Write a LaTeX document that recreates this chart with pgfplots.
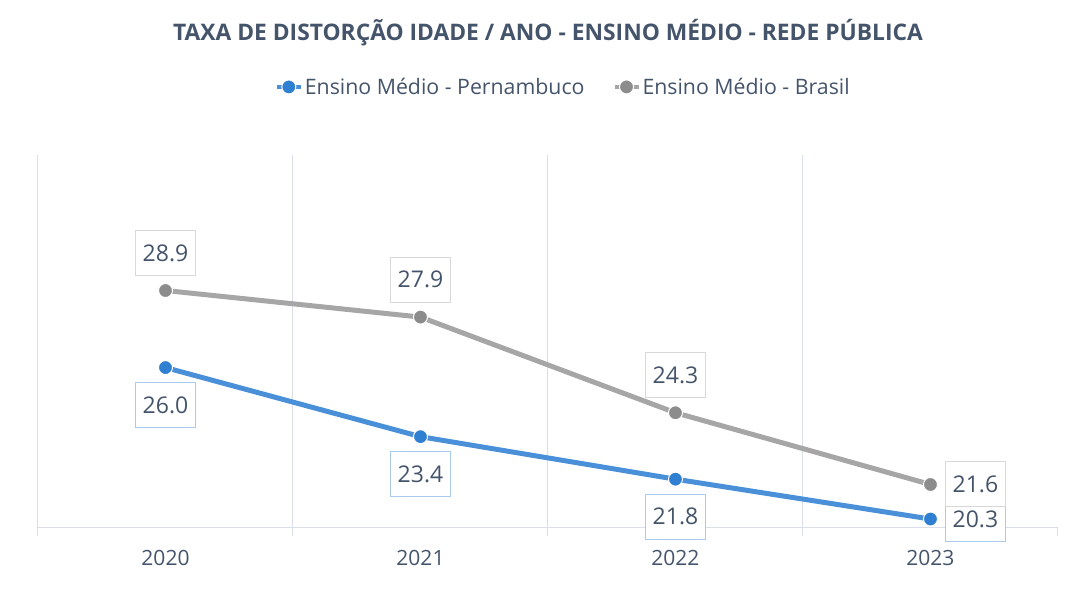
\documentclass[border=0pt]{standalone}
\usepackage{pgfplots}
\pgfplotsset{compat=1.18}
\usepackage{fontspec}
\setmainfont{Open Sans}
\definecolor{txt}{HTML}{44546A}
\definecolor{gridc}{HTML}{D9DEE8}
\definecolor{blueL}{HTML}{4A90D9}
\definecolor{blueM}{HTML}{2F80D0}
\definecolor{grayL}{HTML}{A6A6A6}
\definecolor{grayM}{HTML}{8C8C8C}
\definecolor{blueB}{HTML}{A9CBEE}
\definecolor{grayB}{HTML}{D9D9D9}
\begin{document}
\begin{tikzpicture}
\begin{axis}[
  at={(0pt,0pt)}, anchor=south west,
  scale only axis, width=1020pt, height=372pt,
  xmin=-0.5, xmax=3.5, ymin=20, ymax=34,
  /pgf/number format/assume math mode=true,
  xtick={0,1,2,3}, xticklabels={2020,2021,2022,2023},
  major tick length=0pt,
  minor xtick={-0.5,0.5,1.5,2.5},
  minor grid style={gridc, line width=1pt},
  xminorgrids,
  extra x ticks={3.5}, extra x tick labels={},
  extra x tick style={grid=none, major tick length=9pt},
  minor tick length=9pt,
  tick align=outside,
  tick style={gridc, line width=1pt},
  ytick=\empty,
  axis line style={gridc, line width=1pt},
  axis x line*=bottom, axis y line=none,
  ticklabel style={font=\fontsize{21pt}{25pt}\selectfont, text=txt},
  xticklabel style={yshift=-20pt},
  clip=false,
  legend style={at={(0.515,1.183)}, anchor=center, draw=none, fill=none,
     legend columns=2, font=\fontsize{21.3pt}{25pt}\selectfont, text=txt,
     /tikz/every even column/.append style={column sep=26pt}},
  legend image code/.code={%
     \draw[#1, mark=none, line width=4pt] (0pt,0pt) -- (24pt,0pt);
     \draw[#1, only marks] plot coordinates {(12pt,0pt)};},
  lbl/.style 2 args={
    forget plot, draw=none, mark=none,
    nodes near coords={\pgfmathprintnumber[fixed,fixed zerofill,precision=1]{\pgfplotspointmeta}},
    point meta=y,
    every node near coord/.append style={anchor=#2, outer sep=15pt, inner sep=0pt,
      minimum width=60pt, minimum height=45pt, fill=white, text=txt,
      font=\fontsize{23pt}{28pt}\selectfont, line width=1pt, draw=#1}},
]
\addplot[blueL, line width=5pt, mark=*, mark size=7pt,
  mark options={fill=blueM, draw=white, line width=1pt}]
  coordinates {(0,26.0) (1,23.4) (2,21.8) (3,20.3)};
\addlegendentry{Ensino Médio - Pernambuco}
\addplot[grayL, line width=5pt, mark=*, mark size=7pt,
  mark options={fill=grayM, draw=white, line width=1pt}]
  coordinates {(0,28.9) (1,27.9) (2,24.3) (3,21.6)};
\addlegendentry{Ensino Médio - Brasil}
\addplot[lbl={blueB}{north}] coordinates {(0,26.0) (1,23.4) (2,21.8)};
\addplot[lbl={blueB}{west}] coordinates {(3,20.3)};
\addplot[lbl={grayB}{south}] coordinates {(0,28.9) (1,27.9) (2,24.3)};
\addplot[lbl={grayB}{west}] coordinates {(3,21.6)};
\node[font=\fontsize{22.8pt}{27pt}\selectfont\bfseries, text=txt] at (rel axis cs:0.5,1.33) {TAXA DE DISTORÇÃO IDADE / ANO - ENSINO MÉDIO - REDE PÚBLICA};
\end{axis}
\pgfresetboundingbox
\path[use as bounding box] (-38pt,-63pt) rectangle (1034pt,527pt);
\end{tikzpicture}
\end{document}
